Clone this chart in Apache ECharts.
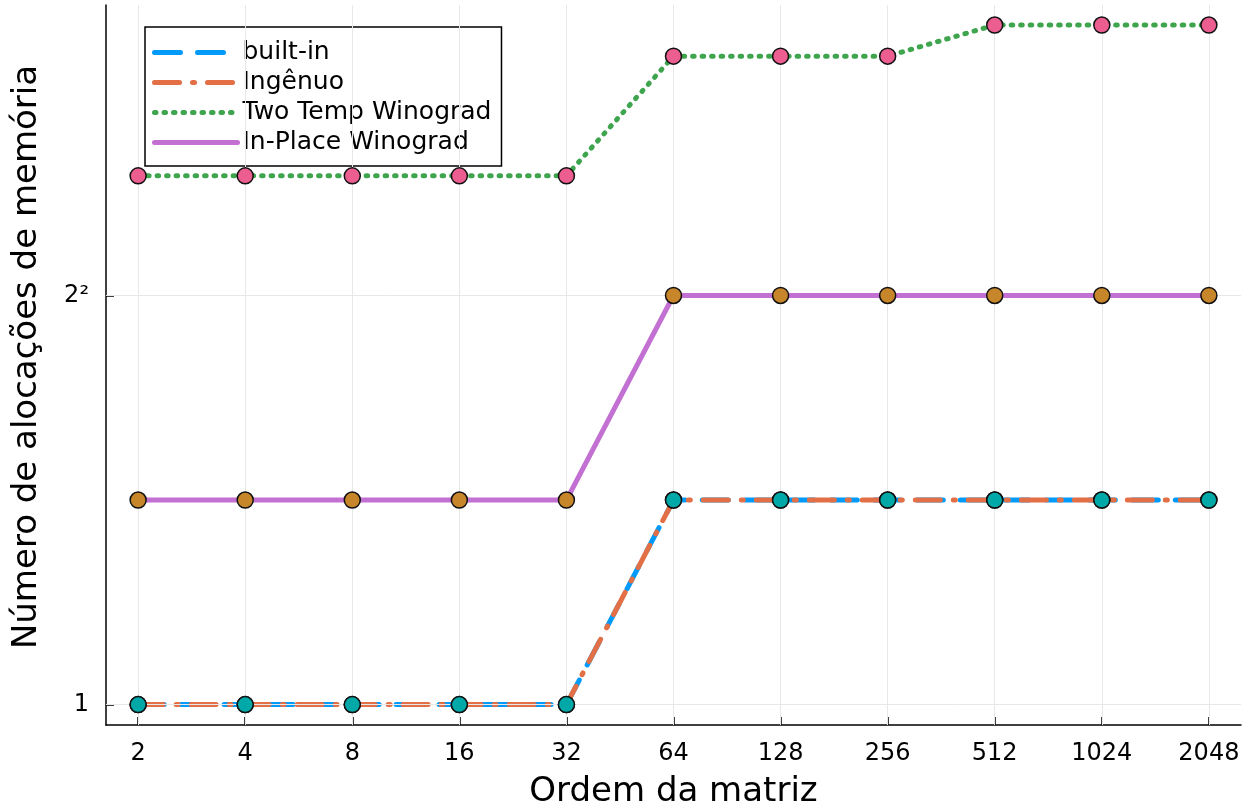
<!DOCTYPE html>
<html>
<head>
<meta charset="utf-8">
<script src="https://cdn.jsdelivr.net/npm/echarts@6/dist/echarts.min.js"></script>
<style>html,body{margin:0;padding:0;background:#fff}#c{width:1259px;height:811px}</style>
</head>
<body>
<div id="c"></div>
<script>
const orders = [2, 4, 8, 16, 32, 64, 128, 256, 512, 1024, 2048];
const builtin = [1, 1, 1, 1, 1, 2, 2, 2, 2, 2, 2];
const ingenuo = [1, 1, 1, 1, 1, 2, 2, 2, 2, 2, 2];
const twoTemp = [6, 6, 6, 6, 6, 9, 9, 9, 10, 10, 10];
const inPlace = [2, 2, 2, 2, 2, 4, 4, 4, 4, 4, 4];
const xTicks = [2, 4, 8, 16, 32, 64, 128, 256, 512, 1024, 2048];
const xTickLabels = ['2', '4', '8', '16', '32', '64', '128', '256', '512', '1024', '2048'];
const yTicks = [1, 4];
const yTickLabels = ['1', '2²'];
const seriesNames = ['built-in', 'Ingênuo', 'Two Temp Winograd', 'In-Place Winograd'];

const pair = vals => orders.map((o, i) => [o, vals[i]]);
const FONT = 'DejaVu Sans';

// axis extents (log2 space, widened like Plots.jl)
const X_LO = 0.7, X_HI = 11.3, Y_LO = -0.0997, Y_HI = 3.42;

const chart = echarts.init(document.getElementById('c'), null, {renderer: 'canvas'});

const gridLines = [];
xTicks.forEach(v => gridLines.push({xAxis: v}));
yTicks.forEach(v => gridLines.push({yAxis: v}));

function lineSeries(name, vals, color, type, z) {
  return {
    name, type: 'line', data: pair(vals), showSymbol: false, z,
    lineStyle: {color, width: 5, type, cap: 'round', join: 'round'},
    itemStyle: {color}, silent: true, animation: false
  };
}
function markerSeries(vals, color) {
  return {
    type: 'scatter', data: pair(vals), symbol: 'circle', symbolSize: 16, z: 10,
    itemStyle: {color, borderColor: '#111', borderWidth: 1.5, opacity: 1},
    silent: true, animation: false
  };
}

chart.setOption({
  animation: false,
  backgroundColor: '#fff',
  textStyle: {fontFamily: FONT},
  grid: {left: 106, right: 18, top: 5, bottom: 86, containLabel: false, outerBoundsMode: 'none'},
  legend: {
    data: seriesNames,
    orient: 'vertical', left: 145, top: 27,
    padding: [13, 10, 11, 7],
    itemGap: 5, itemWidth: 83, itemHeight: 18, itemTextGap: 8,
    borderColor: '#000', borderWidth: 1.5, backgroundColor: '#fff',
    lineStyle: {width: 5},
    itemStyle: {opacity: 0, borderWidth: 0},
    textStyle: {fontSize: 25, lineHeight: 24, color: '#000', fontFamily: FONT},
    selectedMode: false
  },
  xAxis: {
    type: 'log', logBase: 2,
    min: Math.pow(2, X_LO), max: Math.pow(2, X_HI),
    name: 'Ordem da matriz', nameLocation: 'middle', nameGap: 50,
    nameTextStyle: {fontSize: 34, color: '#000', fontFamily: FONT},
    axisLine: {show: true, lineStyle: {color: '#000', width: 1.5}},
    axisTick: {show: true, inside: true, length: 8, customValues: xTicks, lineStyle: {color: '#000', width: 1.5}},
    axisLabel: {customValues: xTicks, fontSize: 24, color: '#000', margin: 17, fontFamily: FONT,
      formatter: v => { const i = xTicks.findIndex(t => Math.abs(t - v) < 1e-6 * t); return i >= 0 ? xTickLabels[i] : ''; }},
    splitLine: {show: false}, minorTick: {show: false}
  },
  yAxis: {
    type: 'log', logBase: 2,
    min: Math.pow(2, Y_LO), max: Math.pow(2, Y_HI),
    name: 'Número de alocações de memória', nameLocation: 'middle', nameGap: 62,
    nameTextStyle: {fontSize: 34, color: '#000', fontFamily: FONT, padding: [0, 0, 0, 16]},
    axisLine: {show: true, lineStyle: {color: '#000', width: 1.5}},
    axisTick: {show: true, inside: true, length: 8, customValues: yTicks, lineStyle: {color: '#000', width: 1.5}},
    axisLabel: {customValues: yTicks, fontSize: 24, color: '#000', margin: 17, fontFamily: FONT,
      formatter: v => { const i = yTicks.findIndex(t => Math.abs(t - v) < 1e-6 * t); return i >= 0 ? yTickLabels[i] : ''; }},
    splitLine: {show: false}, minorTick: {show: false}
  },
  series: [
    {
      type: 'line', data: pair(inPlace), z: 0, symbol: 'none', showSymbol: false,
      lineStyle: {opacity: 0}, silent: true, animation: false,
      markLine: {silent: true, symbol: ['none', 'none'], label: {show: false}, animation: false,
        lineStyle: {color: '#e8e8e8', width: 1, type: 'solid'}, data: gridLines}
    },
    lineSeries(seriesNames[0], builtin, '#009AFA', [26, 17], 2),
    lineSeries(seriesNames[1], ingenuo, '#E26F46', [25, 13, 2, 13], 3),
    lineSeries(seriesNames[2], twoTemp, '#3EA44E', [1.5, 8], 4),
    lineSeries(seriesNames[3], inPlace, '#C271D2', 'solid', 5),
    markerSeries(twoTemp, '#EB5E8F'),
    markerSeries(inPlace, '#C8862A'),
    markerSeries(builtin, '#00A9A8'),
    markerSeries(ingenuo, '#00A9A8')
  ]
});
</script>
</body>
</html>
